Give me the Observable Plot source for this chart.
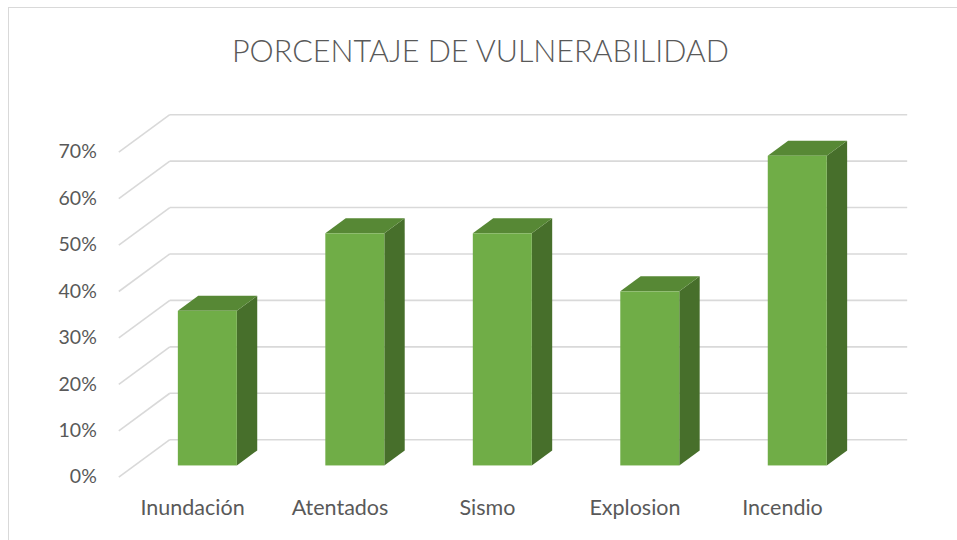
<!DOCTYPE html>
<html>
<head>
<meta charset="utf-8">
<script src="https://cdn.jsdelivr.net/npm/d3@7"></script>
<script src="https://cdn.jsdelivr.net/npm/@observablehq/plot@0.6"></script>
<style>
  html, body { margin: 0; padding: 0; background: #fff; }
  #wrap { position: relative; width: 957px; height: 540px; overflow: hidden; }
  #border { position: absolute; left: 8px; top: 7px; width: 1200px; height: 1200px; border: 1.5px solid #d9d9d9; box-sizing: border-box; pointer-events: none; }
  #chart { position: absolute; left: 0; top: 0; }
</style>
</head>
<body>
<div id="wrap"><div id="chart"></div><div id="border"></div></div>
<script>
const title = "PORCENTAJE DE VULNERABILIDAD";
const categories = ["Inundación", "Atentados", "Sismo", "Explosion", "Incendio"];
const values = [0.333, 0.50, 0.50, 0.375, 0.667];
const yTicks = [0, 0.1, 0.2, 0.3, 0.4, 0.5, 0.6, 0.7];

// oblique 3D projection (depth vector expressed in data units)
const DX = 0.3458, DY = 0.0808;
const HALF = 0.2, D_FRONT = 0.3, D_BACK = 0.7;

const bars = categories.map((c, i) => ({c, i, v: values[i]}));
const topPts = bars.flatMap(b => [D_FRONT, D_BACK].map(d => ({
  c: b.c, y: b.v + d * DY, x1: b.i - HALF + d * DX, x2: b.i + HALF + d * DX
})));
const sidePts = bars.flatMap(b => [D_FRONT, D_BACK].map(d => ({
  c: b.c, x: b.i + HALF + d * DX, y1: d * DY, y2: b.v + d * DY
})));

const font = "Lato, 'Open Sans', sans-serif";
const grey = "#595959";

const chart = Plot.plot({
  width: 957,
  height: 540,
  marginLeft: 118.3,
  marginRight: 101.3,
  marginTop: 151.7,
  marginBottom: 63.3,
  style: {fontFamily: font, background: "transparent"},
  x: {type: "linear", domain: [-0.5, 4.5]},
  y: {domain: [0, 0.7]},
  marks: [
    Plot.link(yTicks, {x1: () => -0.5, y1: t => t, x2: () => -0.5 + DX, y2: t => t + DY, stroke: "#d9d9d9", strokeWidth: 1.6}),
    Plot.link(yTicks, {x1: () => -0.5 + DX, y1: t => t + DY, x2: () => 4.5 + DX, y2: t => t + DY, stroke: "#d9d9d9", strokeWidth: 1.6}),
    Plot.areaY(sidePts, {x: "x", y1: "y1", y2: "y2", z: "c", fill: "#476f2b"}),
    Plot.areaX(topPts, {y: "y", x1: "x1", x2: "x2", z: "c", fill: "#578835"}),
    Plot.rect(bars, {x1: b => b.i - HALF + D_FRONT * DX, x2: b => b.i + HALF + D_FRONT * DX, y1: () => D_FRONT * DY, y2: b => b.v + D_FRONT * DY, fill: "#70ad47"}),
    Plot.axisY(yTicks, {tickSize: 0, tickPadding: 22, tickFormat: d3.format(".0%"), fontSize: 19.5, fill: grey}),
    Plot.axisX(d3.range(categories.length), {tickSize: 0, tickPadding: 23, tickFormat: i => categories[i], fontSize: 21.5, fill: grey}),
    Plot.text([title], {frameAnchor: "top", lineAnchor: "middle", dx: -7, dy: -100, fontSize: 30.5, fontWeight: 300, fill: grey, text: d => d})
  ]
});
document.getElementById("chart").appendChild(chart);
</script>
</body>
</html>
